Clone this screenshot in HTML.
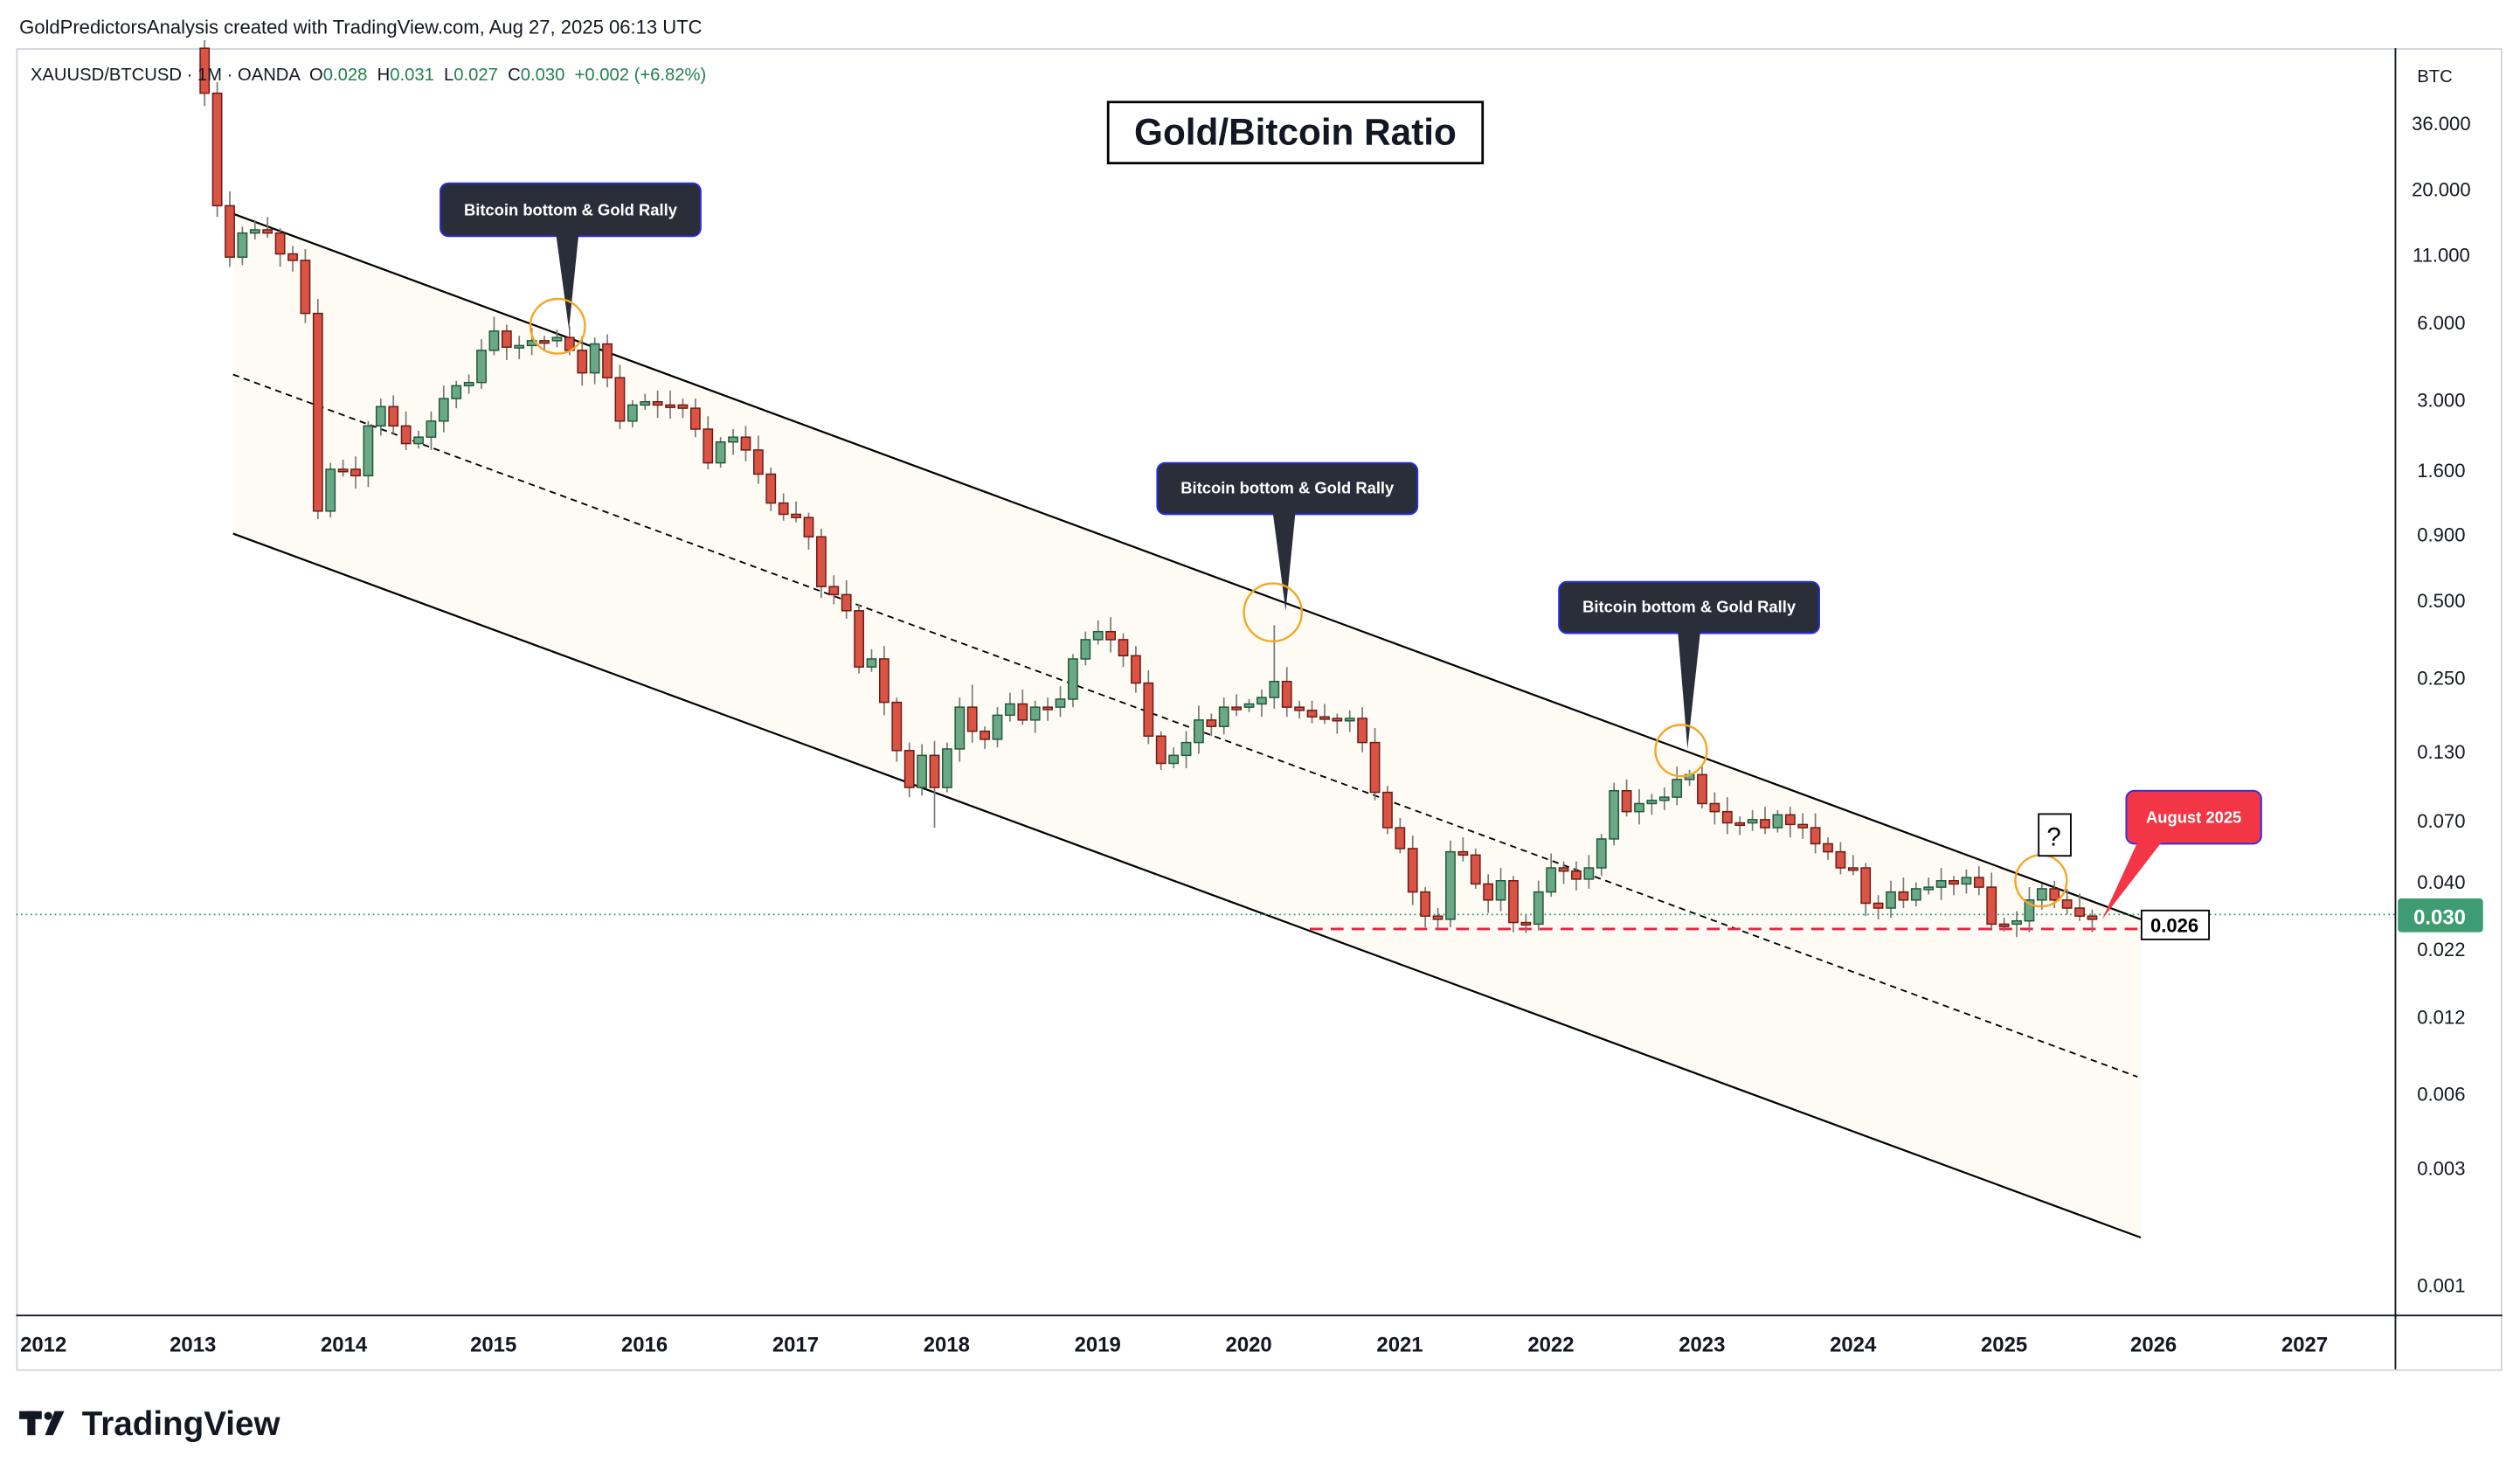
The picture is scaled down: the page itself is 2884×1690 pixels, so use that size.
<!DOCTYPE html>
<html><head><meta charset="utf-8"><style>
html,body{margin:0;padding:0;background:#fff;}
svg{display:block;font-family:"Liberation Sans",sans-serif;}
</style></head><body>
<svg id="c" width="2884" height="1690" viewBox="0 0 1568 919" preserveAspectRatio="none" xmlns="http://www.w3.org/2000/svg">
<rect width="1568" height="919" fill="#fff"/>
<text x="12" y="21" font-size="12" fill="#131722">GoldPredictorsAnalysis created with TradingView.com, Aug 27, 2025 06:13 UTC</text>
<rect x="10.5" y="30.5" width="1546" height="822" fill="none" stroke="#d1d4dc"/>
<line x1="1490.5" y1="30" x2="1490.5" y2="852" stroke="#131722"/>
<line x1="10" y1="818.5" x2="1557" y2="818.5" stroke="#131722"/>
<polygon points="145,133 1332,572 1332,770 145,332" fill="#fdfbf4"/>
<line x1="145" y1="133" x2="1332" y2="572" stroke="#000" stroke-width="1.2"/>
<line x1="145" y1="332" x2="1332" y2="770" stroke="#000" stroke-width="1.2"/>
<line x1="145" y1="233" x2="1330" y2="670" stroke="#000" stroke-width="1" stroke-dasharray="4,3"/>
<line x1="10" y1="569" x2="1490" y2="569" stroke="#2e9c7a" stroke-width="1" stroke-dasharray="1,2"/>
<line x1="815" y1="578" x2="1330" y2="578" stroke="#e8233f" stroke-width="1.6" stroke-dasharray="8,5"/>
<g id="candles"></g>
<text x="19" y="50" font-size="11" fill="#131722" xml:space="preserve">XAUUSD/BTCUSD · 1M · OANDA  O<tspan fill="#22814f">0.028</tspan>  H<tspan fill="#22814f">0.031</tspan>  L<tspan fill="#22814f">0.027</tspan>  C<tspan fill="#22814f">0.030  +0.002 (+6.82%)</tspan></text>
<rect x="689.5" y="63.5" width="233" height="38" fill="#fff" stroke="#000" stroke-width="1.5"/>
<text x="806" y="90" font-size="23" font-weight="bold" text-anchor="middle" fill="#131722">Gold/Bitcoin Ratio</text>
<g font-size="10" font-weight="bold" fill="#fff" text-anchor="middle">
<rect x="274" y="114" width="162" height="33" rx="5" fill="#2a2e39" stroke="#2b2bf0"/>
<polygon points="346,146 360,146 354,205" fill="#2a2e39"/>
<text x="355" y="134">Bitcoin bottom &amp; Gold Rally</text>
<rect x="720" y="288" width="162" height="32" rx="5" fill="#2a2e39" stroke="#2b2bf0"/>
<polygon points="792,319 806,319 800,380" fill="#2a2e39"/>
<text x="801" y="307">Bitcoin bottom &amp; Gold Rally</text>
<rect x="970" y="362" width="162" height="32" rx="5" fill="#2a2e39" stroke="#2b2bf0"/>
<polygon points="1044,393 1058,393 1050,466" fill="#2a2e39"/>
<text x="1051" y="381">Bitcoin bottom &amp; Gold Rally</text>
<rect x="1323" y="492" width="84" height="33" rx="5" fill="#f23645" stroke="#2b2bf0"/>
<polygon points="1330,524 1345,524 1308,572" fill="#f23645"/>
<text x="1365" y="512">August 2025</text>
</g>
<g fill="none" stroke="#f5a623" stroke-width="1.3">
<circle cx="347" cy="203" r="17"/><circle cx="792" cy="381" r="18"/><circle cx="1046" cy="467" r="16"/><circle cx="1270" cy="548" r="16"/>
</g>
<rect x="1268.5" y="506.5" width="20" height="26" fill="#fff" stroke="#000"/>
<text x="1278" y="526" font-size="16" text-anchor="middle">?</text>
<rect x="1332.5" y="566.5" width="42" height="18" fill="#fff" stroke="#000"/>
<text x="1353" y="580" font-size="12" font-weight="bold" text-anchor="middle">0.026</text>
<g font-size="12" fill="#131722" text-anchor="middle">
<text x="1515" y="51" font-size="11">BTC</text>
<text x="1519" y="81">36.000</text><text x="1519" y="122">20.000</text><text x="1519" y="163">11.000</text>
<text x="1519" y="205">6.000</text><text x="1519" y="253">3.000</text><text x="1519" y="297">1.600</text>
<text x="1519" y="337">0.900</text><text x="1519" y="378">0.500</text><text x="1519" y="426">0.250</text>
<text x="1519" y="472">0.130</text><text x="1519" y="515">0.070</text><text x="1519" y="553">0.040</text>
<text x="1519" y="595">0.022</text><text x="1519" y="637">0.012</text><text x="1519" y="685">0.006</text>
<text x="1519" y="731">0.003</text><text x="1519" y="804">0.001</text>
</g>
<rect x="1492" y="559" width="53" height="21" rx="2" fill="#3d9c72"/>
<text x="1518" y="575" font-size="13" font-weight="bold" fill="#fff" text-anchor="middle">0.030</text>
<g font-size="13" font-weight="bold" fill="#131722" text-anchor="middle">
<text x="27" y="841">2012</text><text x="120" y="841">2013</text><text x="214" y="841">2014</text><text x="307" y="841">2015</text>
<text x="401" y="841">2016</text><text x="495" y="841">2017</text><text x="589" y="841">2018</text><text x="683" y="841">2019</text>
<text x="777" y="841">2020</text><text x="871" y="841">2021</text><text x="965" y="841">2022</text><text x="1059" y="841">2023</text>
<text x="1153" y="841">2024</text><text x="1247" y="841">2025</text><text x="1340" y="841">2026</text><text x="1434" y="841">2027</text>
</g>
<g fill="#131722">
<rect x="12" y="878" width="14" height="5"/><rect x="17" y="878" width="5" height="15"/><circle cx="30" cy="881" r="2.5"/><polygon points="34,878 40,878 33,893 28,893"/>
<text x="51" y="893" font-size="21" font-weight="bold">TradingView</text>
</g>
</svg>
<script>
(function(){
var closes=[30,58,128,160,145,143,145,158,162,195,318,292,
292,296,265,253,265,276,272,262,248,240,238,218,
206,216,215,212,212,210,218,232,214,235,262,252,
250,252,252,254,267,288,275,272,280,295,313,320,
322,334,365,370,380,415,410,437,467,490,470,490,
466,440,455,460,445,438,448,440,440,435,410,398,
393,398,408,425,458,475,470,462,448,452,440,440,
438,434,424,440,442,446,447,448,447,462,493,515,
528,555,570,572,530,532,550,560,548,574,575,555,
540,542,547,540,522,492,505,500,498,496,485,482,
500,505,512,512,510,515,507,513,515,525,530,540,
540,562,565,555,560,553,552,548,550,546,552,575,
575,573,560,553,560,565,570,572];
var g=document.getElementById('candles'),ns="http://www.w3.org/2000/svg";
function el(t,a){var e=document.createElementNS(ns,t);for(var k in a)e.setAttribute(k,String(a[k]));g.appendChild(e);}
for(var i=1;i<closes.length;i++){
 var x=120+i*7.83-0.5, o=closes[i-1], c=closes[i];
 var up=c<o, hi=Math.min(o,c), lo=Math.max(o,c);
 if(lo-hi<1.5){lo=hi+1.5;}
 var w1=3+((i*37)%7), w2=3+((i*53)%6);
 if(i==86){w1=35;} if(i==59){w2=25;} if(i==62){w1=14;}
 el('line',{x1:x,y1:hi-w1,x2:x,y2:lo+w2,stroke:'#777','stroke-width':0.9});
 el('rect',{x:x-2.8,y:hi,width:5.6,height:lo-hi,fill:up?'#6aa886':'#d95445',stroke:up?'#1e5a3a':'#6b1a14','stroke-width':0.8});
}
})();
</script>
</body></html>
